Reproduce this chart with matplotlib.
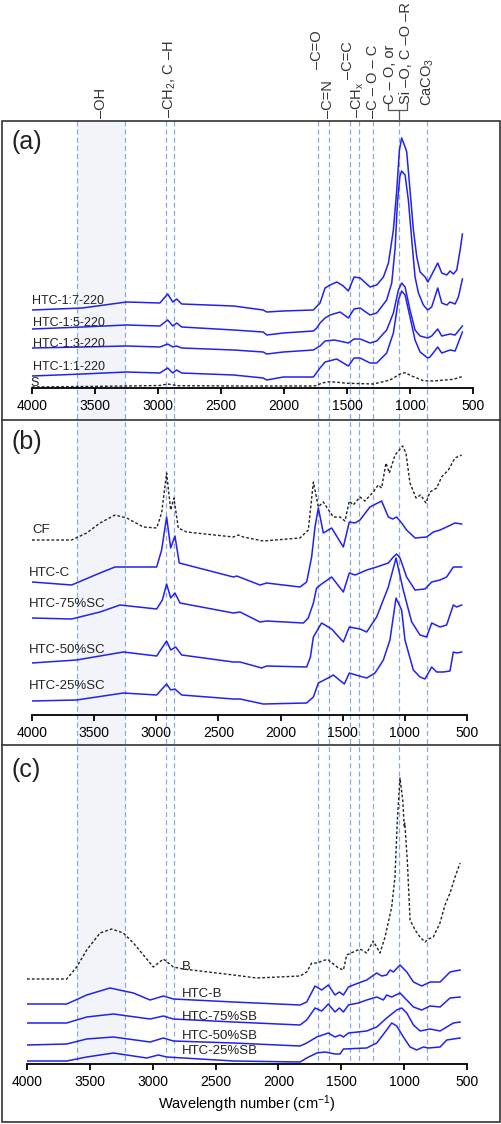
import numpy as np
import matplotlib.pyplot as plt
from matplotlib.patches import Rectangle
from matplotlib.transforms import blended_transform_factory

plt.rcParams['font.family'] = ['Liberation Sans', 'DejaVu Sans']
plt.rcParams['mathtext.fontset'] = 'custom'
plt.rcParams['mathtext.rm'] = 'Liberation Sans'
plt.rcParams['mathtext.it'] = 'Liberation Sans:italic'
plt.rcParams['mathtext.default'] = 'regular'

# ---- data (wavenumber in cm-1, offset intensity in arbitrary units) ----
# panel (a)
a_wn_17 = [4000, 3600, 3250, 2985, 2923, 2883, 2852, 2812, 2400, 2165, 2137, 2005, 1767, 1714, 1674, 1634,
           1580, 1530, 1489, 1444, 1396, 1317, 1264, 1211, 1171, 1132, 1105, 1084, 1066, 1039, 1026, 1000,
           973, 946, 920, 880, 859, 841, 780, 748, 708, 682, 655, 629, 602, 584]
a_17 = [78, 80, 86, 85, 94, 86, 89, 84, 82, 78, 76, 77, 78, 85, 100, 103,
        106, 102, 97, 111, 110, 101, 103, 111, 125, 158, 198, 238, 250, 241, 236, 198,
        158, 131, 116, 111, 106, 110, 125, 115, 113, 117, 114, 118, 138, 154]
a_wn_15 = [4000, 3600, 3250, 2985, 2923, 2883, 2852, 2812, 2400, 2165, 2137, 2005, 1767, 1740, 1714, 1674,
           1634, 1555, 1489, 1444, 1396, 1317, 1264, 1185, 1145, 1118, 1100, 1080, 1066, 1039, 1013, 986,
           960, 933, 894, 860, 828, 780, 748, 708, 682, 642, 616, 584]
a_15 = [59, 61, 63, 62, 68, 62, 65, 61, 58, 56, 53, 55, 57, 60, 65, 70,
        73, 76, 70, 79, 80, 73, 75, 88, 105, 140, 185, 212, 217, 213, 188, 148,
        111, 95, 83, 78, 81, 100, 85, 83, 86, 84, 91, 109]
a_wn_13 = [4000, 3600, 3250, 2985, 2923, 2883, 2852, 2812, 2400, 2165, 2137, 2005, 1767, 1714, 1674, 1600,
           1489, 1444, 1396, 1317, 1264, 1185, 1132, 1092, 1066, 1039, 1000, 960, 920, 859, 828, 780,
           748, 682, 642, 584]
a_13 = [40, 41, 42, 41, 44, 41, 42, 40, 38, 36, 34, 36, 38, 42, 47, 48,
        45, 49, 49, 45, 47, 58, 75, 98, 105, 101, 78, 58, 52, 50, 52, 59,
        52, 54, 53, 62]
a_wn_11 = [4000, 3600, 3250, 2985, 2923, 2883, 2852, 2812, 2400, 2165, 2137, 2005, 1767, 1714, 1674, 1582,
           1489, 1444, 1396, 1317, 1264, 1185, 1132, 1092, 1066, 1039, 1000, 960, 920, 859, 841, 780,
           748, 682, 642, 584]
a_11 = [12, 14, 16, 15, 20, 15, 18, 15, 13, 10, 8, 11, 11, 20, 26, 29,
        22, 30, 30, 25, 25, 35, 55, 88, 97, 93, 71, 48, 36, 30, 31, 41,
        35, 38, 37, 56]
a_wn_s = [4000, 3600, 3250, 2985, 2923, 2840, 2400, 1767, 1740, 1700, 1634, 1489, 1290, 1158, 1079, 1039,
          986, 894, 814, 655, 589]
a_s = [1, 1.5, 2, 2.5, 4, 2.3, 2, 2, 2.5, 5, 6.3, 4.7, 4, 8, 14, 15.3,
       12, 7.3, 7, 8.7, 11.3]

# panel (b)
b_wn_cf = [4000, 3681, 3560, 3453, 3332, 3238, 3104, 2997, 2957, 2917, 2884, 2858, 2823, 2756, 2380, 2340,
           2300, 2139, 1844, 1777, 1736, 1696, 1656, 1576, 1522, 1482, 1447, 1415, 1361, 1321, 1254, 1214,
           1187, 1152, 1125, 1079, 1018, 991, 959, 910, 873, 830, 798, 744, 704, 650, 597, 543]
b_cf = [175, 175, 182, 192, 200, 197, 188, 187, 202, 242, 205, 217, 187, 183, 178, 180,
        178, 174, 177, 185, 233, 208, 213, 198, 198, 194, 214, 210, 218, 214, 223, 230,
        227, 252, 242, 260, 269, 262, 232, 217, 220, 212, 223, 227, 238, 245, 257, 260]
b_wn_c = [4000, 3681, 3453, 3332, 2997, 2957, 2917, 2884, 2850, 2815, 2380, 2353, 2166, 2112, 1844, 1790,
          1750, 1723, 1696, 1656, 1589, 1495, 1447, 1401, 1361, 1281, 1187, 1133, 1098, 1066, 1026, 986,
          918, 825, 771, 717, 664, 597, 543]
b_c = [133, 130, 142, 148, 148, 165, 198, 167, 179, 152, 138, 139, 130, 132, 128, 133,
       158, 188, 207, 182, 187, 168, 193, 192, 195, 208, 214, 198, 196, 198, 192, 185,
       177, 178, 183, 185, 188, 192, 191]
b_wn_75 = [4000, 3681, 3453, 3292, 2997, 2951, 2917, 2884, 2850, 2809, 2380, 2326, 2166, 2112, 1817, 1777,
           1736, 1710, 1670, 1589, 1495, 1447, 1401, 1361, 1307, 1227, 1133, 1093, 1066, 1039, 986, 918,
           838, 784, 717, 664, 610, 543]
b_75 = [97, 96, 103, 110, 106, 115, 131, 117, 122, 112, 102, 103, 93, 94, 92, 97,
        112, 127, 131, 138, 123, 142, 140, 142, 145, 148, 152, 158, 161, 157, 138, 125,
        126, 133, 135, 138, 148, 148]
b_wn_50 = [4000, 3641, 3265, 2997, 2917, 2884, 2844, 2796, 2380, 2326, 2152, 2112, 1790, 1760, 1736, 1670,
           1589, 1495, 1447, 1361, 1307, 1227, 1133, 1071, 1013, 945, 878, 825, 784, 717, 664, 610,
           583, 543]
b_50 = [52, 55, 63, 59, 74, 65, 68, 60, 53, 53, 47, 49, 48, 58, 78, 92,
        86, 73, 88, 86, 83, 98, 128, 157, 125, 93, 80, 78, 92, 88, 90, 110,
        108, 110]
b_wn_25 = [4000, 3641, 3265, 2997, 2917, 2884, 2850, 2796, 2380, 2326, 2139, 1790, 1736, 1696, 1602, 1576,
           1487, 1447, 1366, 1307, 1240, 1173, 1120, 1071, 1026, 999, 932, 878, 838, 784, 744, 690,
           637, 610, 583, 543]
b_25 = [14, 15, 22, 20, 31, 25, 26, 20, 16, 16, 11, 12, 18, 32, 38, 40,
        31, 42, 39, 37, 42, 55, 75, 117, 105, 75, 45, 38, 36, 48, 43, 43,
        44, 63, 62, 63]

# panel (c)
c_wn_b = [4000, 3684, 3605, 3525, 3419, 3326, 3234, 3154, 3074, 2995, 2915, 2836, 2756, 2358, 2173, 1828,
          1775, 1735, 1696, 1629, 1603, 1523, 1483, 1457, 1404, 1351, 1298, 1245, 1192, 1152, 1099, 1073,
          1054, 1033, 1011, 999, 995, 975, 953, 913, 874, 834, 807, 768, 715, 675, 635, 595, 555]
c_b = [85, 85, 97, 114, 131, 135, 131, 121, 109, 97, 105, 97, 95, 89, 86, 88,
       92, 101, 101, 104, 104, 96, 94, 109, 112, 115, 111, 123, 111, 127, 157, 187,
       244, 286, 264, 237, 241, 204, 144, 134, 127, 122, 125, 127, 141, 159, 171, 187, 201]
c_wn_hb = [4000, 3684, 3525, 3340, 3154, 3021, 2915, 2836, 2358, 1828, 1775, 1709, 1656, 1603, 1550, 1515,
           1483, 1443, 1364, 1298, 1218, 1178, 1139, 1112, 1086, 1033, 979, 926, 860, 794, 714, 635, 555]
c_hb = [60, 60, 69, 76, 71, 64, 68, 65, 62, 59, 62, 78, 74, 79, 69, 72,
        69, 77, 81, 84, 91, 88, 89, 94, 92, 99, 92, 82, 78, 82, 82, 92, 94]
c_wn_75 = [4000, 3684, 3525, 3313, 3021, 2915, 2836, 2358, 1828, 1775, 1709, 1656, 1603, 1550, 1515, 1483,
           1443, 1364, 1298, 1218, 1165, 1139, 1099, 1033, 979, 926, 860, 794, 714, 635, 555]
c_75 = [41, 41, 47, 50, 45, 48, 45, 42, 39, 44, 56, 53, 60, 52, 56, 52,
        59, 61, 64, 67, 64, 69, 67, 71, 64, 57, 54, 58, 57, 66, 67]
c_wn_50 = [4000, 3684, 3525, 3313, 3021, 2915, 2836, 2358, 1828, 1775, 1695, 1603, 1550, 1510, 1483, 1443,
           1298, 1218, 1139, 1059, 1019, 979, 926, 873, 794, 714, 635, 608, 555]
c_50 = [19, 20, 25, 27, 22, 26, 23, 21, 18, 21, 27, 31, 27, 29, 27, 31,
        33, 37, 46, 54, 56, 51, 39, 33, 35, 33, 39, 41, 42]
c_wn_25 = [4000, 3684, 3525, 3313, 3048, 2955, 2889, 2358, 1828, 1775, 1695, 1629, 1550, 1510, 1483, 1298,
           1218, 1139, 1099, 1059, 1006, 953, 900, 847, 807, 714, 661, 608, 555]
c_25 = [3, 3, 7, 11, 6, 9, 7, 3, 2, 6, 11, 12, 10, 10, 15, 16,
        21, 34, 41, 38, 27, 17, 14, 17, 16, 17, 24, 25, 26]

# band assignments (wavenumbers on the scale of panel a)
band_wn = [3643, 3262, 2936, 2873, 1730, 1643, 1476, 1405, 1294, 1087, 865]
oh_band = (3643, 3262)
band_labels = ['–OH', '–CH$_2$, C –H', '–C=O', '–C=N', '–C=C', '–CH$_x$',
               '–C – O – C', 'C – O, or', 'Si –O, C –O –R', 'CaCO$_3$']
ticks = [4000, 3500, 3000, 2500, 2000, 1500, 1000, 500]

# ---- layout (pixels) ----
W, H = 502, 1124
BLUE = '#2222ee'
DARK = '#222222'

fig = plt.figure(figsize=(W / 100, H / 100), dpi=100)


def box(x0, y0, x1, y1):
    return [x0 / W, 1 - y1 / H, (x1 - x0) / W, (y1 - y0) / H]


bg = fig.add_axes([0, 0, 1, 1], zorder=0)
bg.set_xlim(0, W)
bg.set_ylim(H, 0)
bg.axis('off')
bg.set_autoscale_on(False)

ax_a = fig.add_axes(box(32, 125, 473, 388), zorder=1)
ax_b = fig.add_axes(box(32, 440, 467, 715), zorder=1)
ax_c = fig.add_axes(box(27, 760, 467, 1064), zorder=1)

for ax, top in [(ax_a, 263), (ax_b, 275), (ax_c, 304)]:
    ax.set_xlim(4000, 500)
    ax.set_ylim(0, top)
    ax.patch.set_visible(False)
    for s in ['left', 'right', 'top']:
        ax.spines[s].set_visible(False)
    ax.spines['bottom'].set_linewidth(1.3)
    ax.set_yticks([])
    ax.set_xticks(ticks)
    ax.tick_params(axis='x', direction='out', length=4, width=1.3, labelsize=10, pad=4)

# reference lines and shaded -OH region spanning all panels
tr = blended_transform_factory(ax_a.transData, bg.transData)
bg.add_patch(Rectangle((oh_band[1], 121), oh_band[0] - oh_band[1], 1064 - 121,
                       transform=tr, facecolor='#f2f4fa', edgecolor='none', zorder=0))
for wn in band_wn:
    bg.plot([wn, wn], [121, 1064], transform=tr, color='#8eaadb', lw=0.9,
            dashes=(4, 2.5), zorder=1)

# panel frames
bg.add_patch(Rectangle((2, 121), 498, 1001, fill=False, lw=1.2, ec='#333333', zorder=2))
bg.plot([2, 500], [420, 420], color='#333333', lw=1.2, zorder=2)
bg.plot([2, 500], [745, 745], color='#333333', lw=1.2, zorder=2)

# band labels above panel a
label_pos = [(101, 118), (170, 118), (317, 69), (328, 118), (348, 79), (358, 118),
             (373, 118), (390, 104), (406, 104), (428, 106)]
for txt, (x, y) in zip(band_labels, label_pos):
    bg.text(x, y, txt, rotation=90, ha='center', va='bottom', fontsize=10.5, color='#333333')
bg.plot([388, 388, 407, 407], [104, 110, 110, 104], color='#555555', lw=0.9)
bg.plot([399, 399], [110, 120], color='#555555', lw=0.9)

# panel (a)
for wn, val in [(a_wn_17, a_17), (a_wn_15, a_15), (a_wn_13, a_13), (a_wn_11, a_11)]:
    ax_a.plot(wn, val, color=BLUE, lw=1.1)
ax_a.plot(a_wn_s, a_s, color=DARK, lw=1.0, dashes=(2, 1.5))
for txt, x, y in [('HTC-1:7-220', 4000, 87), ('HTC-1:5-220', 3990, 65), ('HTC-1:3-220', 3990, 44),
                  ('HTC-1:1-220', 3990, 21), ('S', 4010, 5)]:
    ax_a.text(x, y, txt, fontsize=9, va='center', ha='left', color=DARK)

# panel (b)
ax_b.plot(b_wn_cf, b_cf, color=DARK, lw=1.0, dashes=(2, 1.5))
for wn, val in [(b_wn_c, b_c), (b_wn_75, b_75), (b_wn_50, b_50), (b_wn_25, b_25)]:
    ax_b.plot(wn, val, color=BLUE, lw=1.1)
for txt, x, y in [('CF', 4000, 185), ('HTC-C', 4025, 142), ('HTC-75%SC', 4025, 111),
                  ('HTC-50%SC', 4025, 65), ('HTC-25%SC', 4025, 29)]:
    ax_b.text(x, y, txt, fontsize=9.5, va='center', ha='left', color=DARK)

# panel (c)
ax_c.plot(c_wn_b, c_b, color=DARK, lw=1.0, dashes=(2, 1.5))
for wn, val in [(c_wn_hb, c_hb), (c_wn_75, c_75), (c_wn_50, c_50), (c_wn_25, c_25)]:
    ax_c.plot(wn, val, color=BLUE, lw=1.1)
for txt, x, y in [('B', 2765, 97), ('HTC-B', 2767, 70), ('HTC-75%SB', 2767, 47),
                  ('HTC-50%SB', 2767, 28), ('HTC-25%SB', 2767, 13)]:
    ax_c.text(x, y, txt, fontsize=9.5, va='center', ha='left', color=DARK)
ax_c.set_xlabel('Wavelength number (cm$^{-1}$)', fontsize=10.5, labelpad=3)

# panel letters
for txt, y in [('(a)', 142), ('(b)', 442), ('(c)', 770)]:
    bg.text(12, y, txt, fontsize=18, va='center', ha='left', color=DARK)

fig.savefig('out.png', dpi=100)
